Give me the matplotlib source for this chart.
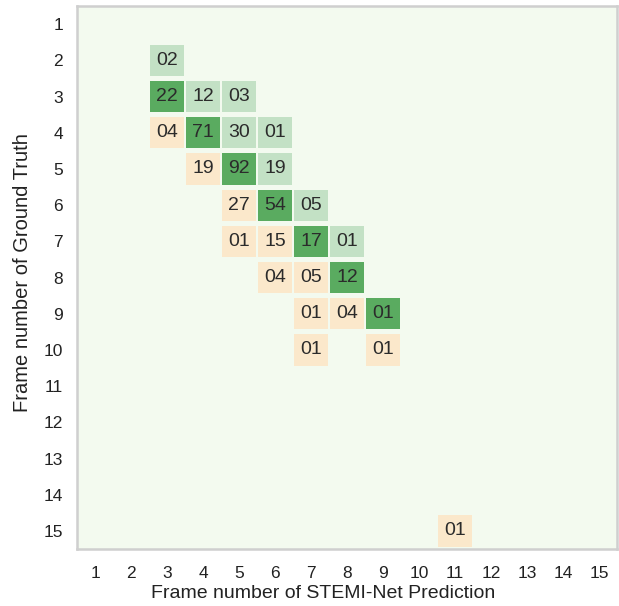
import matplotlib
matplotlib.use("Agg")
import matplotlib.pyplot as plt
from matplotlib.patches import Rectangle

plt.rcParams['font.family'] = ['Liberation Sans', 'DejaVu Sans']

frames = list(range(1, 16))
# (ground truth frame, predicted frame, count)
truth = [2, 3, 3, 3, 4, 4, 4, 4, 5, 5, 5, 6, 6, 6, 7, 7, 7, 7, 8, 8, 8, 9, 9, 9, 10, 10, 15]
pred = [3, 3, 4, 5, 3, 4, 5, 6, 4, 5, 6, 5, 6, 7, 5, 6, 7, 8, 6, 7, 8, 7, 8, 9, 7, 9, 11]
counts = [2, 22, 12, 3, 4, 71, 30, 1, 19, 92, 19, 27, 54, 5, 1, 15, 17, 1, 4, 5, 12, 1, 4, 1, 1, 1, 1]

c_diag = '#5aab60'
c_over = '#c3e1c5'
c_under = '#fbe8cb'
bg = '#f3faef'

fig = plt.figure(figsize=(6.19, 6.06), dpi=100)
ax = fig.add_axes([0.1244, 0.094, 0.8724, 0.896])
ax.set_facecolor(bg)

w, h = 0.95, 0.86
for t, p, c in zip(truth, pred, counts):
    if t == p:
        col = c_diag
    elif p > t:
        col = c_over
    else:
        col = c_under
    ax.add_patch(Rectangle((p - w / 2, t - h / 2), w, h, facecolor=col, edgecolor='none'))
    ax.text(p, t, f"{c:02d}", ha='center', va='center', fontsize=14, color='#2b2b2b')

ax.set_xlim(0.5, 15.5)
ax.set_ylim(15.5, 0.5)
ax.set_xticks(frames)
ax.set_yticks(frames)
ax.set_xticklabels([str(f) for f in frames])
ax.set_yticklabels([str(f) for f in frames])
ax.tick_params(length=0, labelsize=12.5, colors='#222222')
ax.tick_params(axis='x', pad=12)
ax.tick_params(axis='y', pad=10)
for s in ax.spines.values():
    s.set_color('#cfcfcf')
    s.set_linewidth(1.8)

ax.set_xlabel('Frame number of STEMI-Net Prediction', fontsize=14, color='#222222')
ax.set_ylabel('Frame number of Ground Truth', fontsize=14.5, color='#222222')
ax.xaxis.set_label_coords(0.455, -0.066)
ax.yaxis.set_label_coords(-0.083, 0.51)

fig.savefig('out.png', dpi=100)
